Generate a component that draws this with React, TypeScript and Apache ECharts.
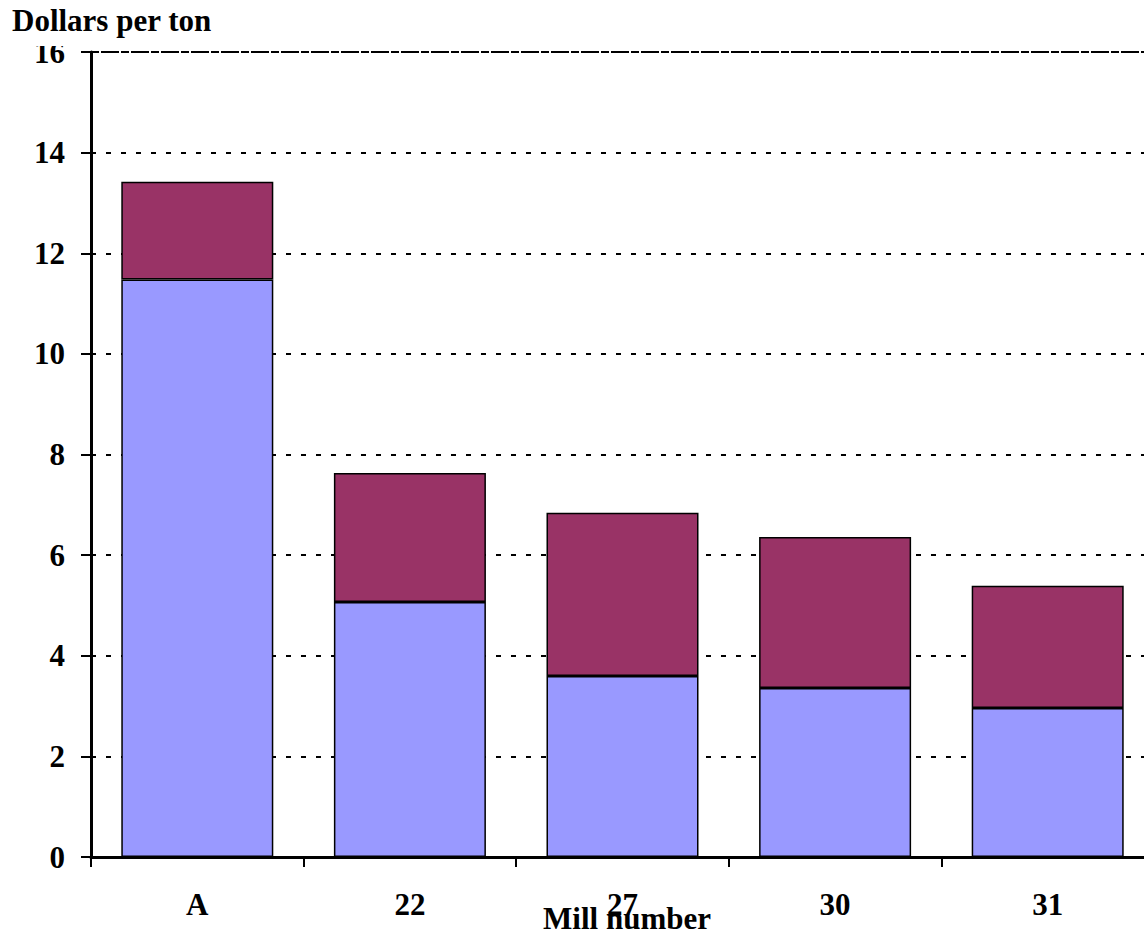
import React, { useEffect, useRef } from "react";
import * as echarts from "echarts";

const categories = ["A", "22", "27", "30", "31"];
const lowerValues = [11.48, 5.07, 3.6, 3.36, 2.96];
const upperValues = [1.94, 2.56, 3.24, 3.0, 2.43];
const yTicks = { min: 0, max: 16, interval: 2 };
const xAxisTitle = "Mill number";
const yAxisTitle = "Dollars per ton";

const FONT = "'Liberation Serif', 'Times New Roman', serif";

export default function App() {
  const ref = useRef<HTMLDivElement>(null);
  useEffect(() => {
    if (!ref.current) return;
    const chart = echarts.init(ref.current, null, { renderer: "svg" });
    chart.setOption({
      animation: false,
      backgroundColor: "#ffffff",
      grid: {
        left: 91,
        top: 52,
        bottom: 78,
        right: -10,
        containLabel: false,
        outerBoundsMode: "none",
      },
      xAxis: {
        type: "category",
        data: categories,
        axisLine: { lineStyle: { color: "#000", width: 3 } },
        axisTick: { show: true, length: 10, lineStyle: { color: "#000", width: 2 } },
        axisLabel: {
          fontFamily: FONT,
          fontWeight: "bold",
          fontSize: 31,
          color: "#000",
          margin: 32,
        },
      },
      yAxis: {
        type: "value",
        min: yTicks.min,
        max: yTicks.max,
        interval: yTicks.interval,
        axisLine: { show: true, lineStyle: { color: "#000", width: 3 } },
        axisTick: { show: true, length: 10, lineStyle: { color: "#000", width: 2 } },
        axisLabel: {
          fontFamily: FONT,
          fontWeight: "bold",
          fontSize: 31,
          color: "#000",
          margin: 26,
        },
        splitLine: {
          show: true,
          lineStyle: { color: "#000", width: 2, type: [5, 10] },
        },
      },
      series: [
        {
          type: "bar",
          stack: "total",
          data: lowerValues,
          barCategoryGap: "28.5%",
          itemStyle: { color: "#9999FF", borderColor: "#000", borderWidth: 1.5 },
          markLine: {
            silent: true,
            symbol: "none",
            label: { show: false },
            lineStyle: { color: "#000", width: 2, type: [8, 2] },
            data: [{ yAxis: 16 }],
          },
        },
        {
          type: "bar",
          stack: "total",
          data: upperValues,
          itemStyle: { color: "#993366", borderColor: "#000", borderWidth: 1.5 },
        },
      ],
      graphic: [
        {
          type: "rect",
          left: 0,
          top: 0,
          z: 100,
          shape: { width: 240, height: 46 },
          style: { fill: "#fff" },
        },
        {
          type: "text",
          left: 12,
          top: 5,
          z: 101,
          style: {
            text: yAxisTitle,
            font: `bold 31px ${FONT}`,
            fill: "#000",
          },
        },
        {
          type: "text",
          x: 627,
          y: 918,
          z: 101,
          style: {
            text: xAxisTitle,
            font: `bold 31px ${FONT}`,
            fill: "#000",
            align: "center",
            verticalAlign: "middle",
          },
        },
      ],
    });
    return () => chart.dispose();
  }, []);
  return (
    <div
      ref={ref}
      style={{ position: "absolute", left: 0, top: 0, width: 1144, height: 935 }}
    />
  );
}
